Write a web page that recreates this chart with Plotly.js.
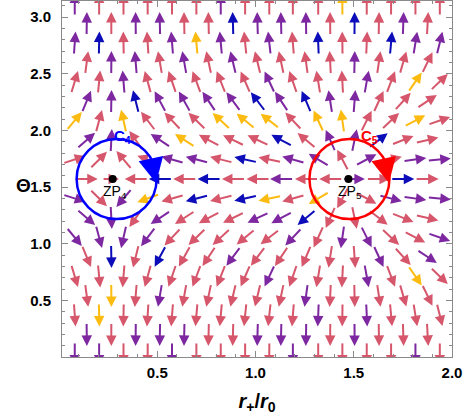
<!DOCTYPE html>
<html><head><meta charset="utf-8">
<script src="https://cdn.plot.ly/plotly-3.0.1.min.js"></script>
<style>html,body{margin:0;padding:0;background:#fff;}</style>
</head><body>
<div id="chart" style="width:465px;height:415px"></div>
<script>
// ---- data ----
// arrow columns (r+/r0): rows of type A and the staggered rows of type B
const colsA = [0.080,0.204,0.328,0.451,0.575,0.699,0.823,0.947,1.070,1.190,1.319,1.442,1.566,1.690,1.814,1.938];
const colsB = [0.141,0.266,0.390,0.513,0.637,0.761,0.885,1.010,1.130,1.257,1.380,1.504,1.628,1.752,1.876];
// horizontal field component per column
const uA = [0.55,0.18,-0.15,-0.50,-0.62,-0.68,-0.72,-0.80,-0.85,-0.62,-0.30,-0.095,0.33,0.70,1.25,1.90];
const uB = [0.45,0.02,-0.27,-0.58,-0.60,-0.72,-0.80,-0.82,-0.72,-0.46,-0.17,0.08,0.50,0.98,1.65];
// rows (Theta), top to bottom, with row type and vertical field component
const rowTheta = [3.119,2.947,2.775,2.603,2.431,2.259,2.087,1.915,1.743,1.571,1.399,1.227,1.055,0.883,0.711,0.539,0.367,0.195,0.023];
const rowType  = "ABABABABABABABABABA";
const rowV     = [1000,29.8,7.71,3.38,1.815,1.08,0.659,0.385,0.178,0,-0.178,-0.385,-0.659,-1.08,-1.815,-3.38,-7.71,-29.8,-1000];
// arrow colours per row (r = red, p = purple, b = blue, o = orange)
const rowColors = [
 "prrrrrprrrrorrrr",
 "prpprrbppprbrpr",
 "pbrrpoprprbrrbpp",
 "rpprprprrrrprrr",
 "rrprrrrrprrrpror",
 "ppbppppbpbpprrr",
 "ororrroooroorror",
 "pprporrrbrppbrr",
 "rrrrpprbrpprprpp",
 "rrrbrbrrprrprbr",
 "prporbrbororrppp",
 "pprprrrppbrrrrr",
 "pppprrrrrprpprrp",
 "rbrbrrprrrrrprp",
 "rrrrrrrrprrrpror",
 "rorprrrrrprrrrr",
 "rorrrrrrrrprprrr",
 "prppprrppprprrr",
 "pprrprrrrprrrrpr"
];
// zero points and contours
const zpR = [0.273, 1.473];
const zpTheta = [1.5708, 1.5708];
const zpNames = ["ZP<sub>4</sub>", "ZP<sub>5</sub>"];
const loopCenterR = [0.293, 1.478];
const loopCenterTheta = [1.5708, 1.5708];
const loopNames = ["C<sub>4</sub>", "C<sub>5</sub>"];

// ---- styling ----
const PALETTE = {r:'#d6566b', p:'#7d28a0', b:'#0c0cb8', o:'#fbbb10'};
const LOOPCOL = ['#0000ff', '#ff0000'];
const W = 465, H = 415, M = {l:62, r:13, t:1, b:58};
const XR = [0.015, 2.0], YR = [0, Math.PI];
const kx = (W - M.l - M.r) / (XR[1] - XR[0]);
const ky = (H - M.t - M.b) / (YR[1] - YR[0]);
const ARROW = 22, HEAD = 10.5;
const FONT = 'Liberation Sans, Arial, sans-serif';

const shafts = {}, heads = {};
Object.keys(PALETTE).forEach(c => {
  shafts[c] = {x:[], y:[]};
  heads[c] = {x:[], y:[], a:[]};
});

rowTheta.forEach((th, i) => {
  const isA = rowType[i] === 'A';
  const cols = isA ? colsA : colsB;
  const us = isA ? uA : uB;
  const v = rowV[i];
  cols.forEach((r, j) => {
    const u = us[j];
    const mag = Math.hypot(u, v);
    const ang = Math.atan2(v, u);
    const len = ARROW * Math.min(1, 0.62 + 4 * mag);
    const dx = Math.cos(ang), dy = Math.sin(ang);
    const c = rowColors[i][j];
    const half = len / 2;
    shafts[c].x.push(r - dx * half / kx, r + dx * (half - HEAD * 0.6) / kx, null);
    shafts[c].y.push(th - dy * half / ky, th + dy * (half - HEAD * 0.6) / ky, null);
    heads[c].x.push(r + dx * half / kx);
    heads[c].y.push(th + dy * half / ky);
    heads[c].a.push(90 - ang * 180 / Math.PI);
  });
});

const traces = [];
Object.keys(PALETTE).forEach(c => {
  traces.push({type:'scatter', mode:'lines', x:shafts[c].x, y:shafts[c].y,
    line:{color:PALETTE[c], width:2}, hoverinfo:'skip', showlegend:false});
  traces.push({type:'scatter', mode:'markers', x:heads[c].x, y:heads[c].y,
    marker:{symbol:'arrow-up', size:HEAD, angle:heads[c].a, color:PALETTE[c], line:{width:0}},
    hoverinfo:'skip', showlegend:false});
});
traces.push({type:'scatter', mode:'markers', x:zpR, y:zpTheta,
  marker:{color:'#000', size:8}, hoverinfo:'skip', showlegend:false});

const rxLoop = 40 / kx, ryLoop = 40 / ky;

const shapes = loopCenterR.map((cr, i) => ({
  type:'circle', xref:'x', yref:'y', layer:'above',
  x0: cr - rxLoop, x1: cr + rxLoop,
  y0: loopCenterTheta[i] - ryLoop, y1: loopCenterTheta[i] + ryLoop,
  line:{color:LOOPCOL[i], width:2.5}
}));

const annotations = [];
// arrowheads on the contours (clockwise, at the right-hand side), drawn on top
loopCenterR.forEach((cr, i) => {
  annotations.push({xref:'x', yref:'y', x: cr + rxLoop - 0.5 / kx, y: loopCenterTheta[i] - 4 / ky,
    text:'', showarrow:true, arrowhead:2, arrowsize:2, arrowwidth:2.5,
    arrowcolor: LOOPCOL[i], ax: -3, ay: -14});
  annotations.push({xref:'x', yref:'y', x: cr + 0.01, y: loopCenterTheta[i] + ryLoop,
    text: '<b>' + loopNames[i] + '</b>', showarrow:false, yshift: 3, xshift: 4 + (i ? 14 : 0),
    font:{family:FONT, size:15, color:LOOPCOL[i]}});
});
zpR.forEach((r, i) => {
  annotations.push({xref:'x', yref:'y', x: r, y: zpTheta[i], text: zpNames[i], showarrow:false,
    yshift:-13, xshift: 2, font:{family:FONT, size:14, color:'#000'}});
});
annotations.push({xref:'paper', yref:'paper', x:-0.122, y:0.483, text:'<b>Θ</b>',
  showarrow:false, font:{family:FONT, size:19, color:'#000'}});

const axisCommon = {
  showgrid:false, zeroline:false, showline:true, linecolor:'#8a8a8a', linewidth:1,
  mirror:'allticks', ticks:'inside', ticklen:6, tickcolor:'#8a8a8a', tickwidth:1,
  tickformat:'.1f',
  tickfont:{family:FONT, size:15, color:'#000', weight:'bold'},
  minor:{tickmode:'linear', tick0:0, dtick:0.1, ticks:'inside', ticklen:3, tickcolor:'#8a8a8a', tickwidth:1}
};

const layout = {
  width:W, height:H, margin:M, paper_bgcolor:'#fff', plot_bgcolor:'#fff',
  showlegend:false,
  xaxis: Object.assign({}, axisCommon, {range:XR, tickvals:[0.5,1,1.5,2],
    ticklabelstandoff:2,
    title:{text:'<b><i>r</i><sub>+</sub>/<i>r</i><sub>0</sub></b>', standoff:14,
      font:{family:FONT, size:20, color:'#000'}}}),
  yaxis: Object.assign({}, axisCommon, {range:YR, tickvals:[0.5,1,1.5,2,2.5,3],
    ticklabelstandoff:7}),
  shapes: shapes,
  annotations: annotations
};

Plotly.newPlot('chart', traces, layout, {displayModeBar:false, staticPlot:true});
</script>
</body></html>
